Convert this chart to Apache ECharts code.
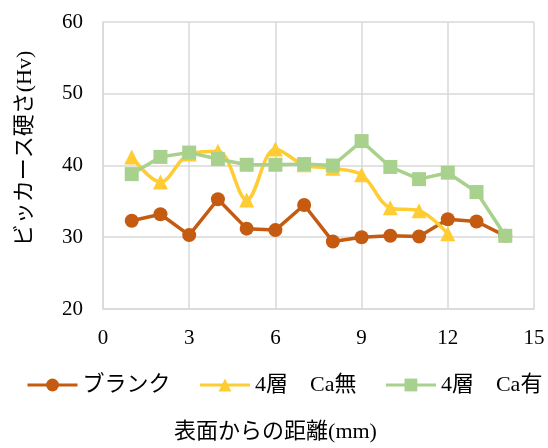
<!DOCTYPE html>
<html>
<head>
<meta charset="utf-8">
<script src="https://cdn.jsdelivr.net/npm/echarts@6/dist/echarts.min.js"></script>
<style>
  html, body { margin: 0; padding: 0; background: #fff; }
  #chart { width: 548px; height: 448px; }
</style>
</head>
<body>
<div id="chart"></div>
<script>
// Vickers hardness vs. depth from surface
const depthMm = [1, 2, 3, 4, 5, 6, 7, 8, 9, 10, 11, 12, 13, 14];
const blank = [32.3, 33.2, 30.3, 35.3, 31.2, 31.0, 34.5, 29.4, 30.0, 30.2, 30.1, 32.5, 32.2, 30.2];
const layer4NoCa = [41.2, 37.7, 41.6, 42.0, 35.2, 42.3, 40.1, 39.6, 38.7, 34.1, 33.7, 30.5];
const layer4WithCa = [38.8, 41.2, 41.8, 40.9, 40.1, 40.1, 40.2, 40.0, 43.4, 39.8, 38.1, 39.0, 36.3, 30.2];
const xTicks = { min: 0, max: 15, step: 3 };
const yTicks = { min: 20, max: 60, step: 10 };
const seriesNames = ['ブランク', '4層　Ca無', '4層　Ca有'];

const pairs = (xs, ys) => ys.map((v, i) => [xs[i], v]);

const serif = "'Liberation Serif', 'Times New Roman', 'Noto Sans CJK JP', serif";
const gridColor = '#d9d9d9';

const chart = echarts.init(document.getElementById('chart'), null, { renderer: 'canvas' });
chart.setOption({
  animation: false,
  backgroundColor: '#fff',
  grid: { left: 103, right: 14, top: 22, bottom: 138 },
  legend: {
    top: 369,
    left: 21,
    width: 527,
    itemWidth: 50,
    itemHeight: 16,
    itemGap: 28,
    lineStyle: { width: 3 },
    textStyle: { fontFamily: serif, fontSize: 22, color: '#000' },
    data: seriesNames
  },
  xAxis: {
    type: 'value',
    min: xTicks.min, max: xTicks.max, interval: xTicks.step,
    name: '表面からの距離(mm)',
    nameLocation: 'middle',
    nameGap: 112,
    nameTextStyle: { fontFamily: serif, fontSize: 22, color: '#000', padding: [0, 86, 0, 0] },
    axisLine: { lineStyle: { color: gridColor, width: 1.5 } },
    axisTick: { show: false },
    axisLabel: { fontFamily: serif, fontSize: 21, color: '#000', margin: 19 },
    splitLine: { show: true, lineStyle: { color: gridColor, width: 1.5 } }
  },
  yAxis: {
    type: 'value',
    min: yTicks.min, max: yTicks.max, interval: yTicks.step,
    name: 'ビッカース硬さ(Hv)',
    nameLocation: 'middle',
    nameGap: 67,
    nameTextStyle: { fontFamily: serif, fontSize: 22, color: '#000', padding: [0, 0, 0, 34] },
    axisLine: { show: true, lineStyle: { color: gridColor, width: 1.5 } },
    axisTick: { show: false },
    axisLabel: { fontFamily: serif, fontSize: 21, color: '#000', margin: 20 },
    splitLine: { show: true, lineStyle: { color: gridColor, width: 1.5 } }
  },
  series: [
    {
      name: seriesNames[0], type: 'line',
      data: pairs(depthMm, blank),
      symbol: 'circle', symbolSize: 14,
      lineStyle: { color: '#C55A11', width: 3.5 },
      itemStyle: { color: '#C55A11' },
      z: 2
    },
    {
      name: seriesNames[1], type: 'line',
      data: pairs(depthMm, layer4NoCa),
      smooth: 0.35,
      symbol: 'triangle', symbolSize: 15,
      lineStyle: { color: '#FFCC33', width: 3.5 },
      itemStyle: { color: '#FFCC33' },
      z: 3
    },
    {
      name: seriesNames[2], type: 'line',
      data: pairs(depthMm, layer4WithCa),
      symbol: 'rect', symbolSize: 14,
      lineStyle: { color: '#A9D18E', width: 3.5 },
      itemStyle: { color: '#A9D18E' },
      z: 4
    }
  ]
});
</script>
</body>
</html>
